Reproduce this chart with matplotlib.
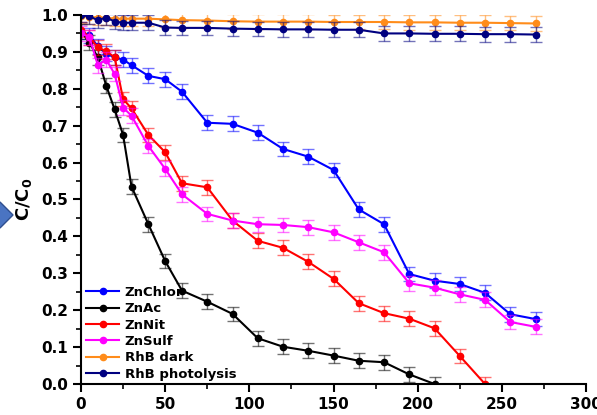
import matplotlib
matplotlib.use("Agg")
import matplotlib.pyplot as plt
from matplotlib.patches import Polygon
import numpy as np

# time (min)
t_all = [0, 5, 10, 15, 20, 25, 30, 40, 50, 60, 75, 90, 105, 120, 135, 150,
         165, 180, 195, 210, 225, 240, 255, 270]

zn_chlor = [0.955, 0.945, 0.915, 0.895, 0.885, 0.879, 0.864, 0.835, 0.826, 0.792,
            0.708, 0.705, 0.681, 0.637, 0.616, 0.580, 0.473, 0.433, 0.298, 0.280,
            0.271, 0.247, 0.189, 0.176]
zn_ac = [0.955, 0.925, 0.885, 0.808, 0.744, 0.675, 0.535, 0.433, 0.333, 0.253,
         0.223, 0.190, 0.124, 0.101, 0.090, 0.077, 0.063, 0.059, 0.026, 0.0]
zn_nit = [0.960, 0.940, 0.912, 0.902, 0.885, 0.772, 0.747, 0.675, 0.628, 0.544,
          0.533, 0.443, 0.388, 0.369, 0.331, 0.285, 0.219, 0.192, 0.177, 0.151,
          0.076, 0.0]
zn_sulf = [0.950, 0.940, 0.864, 0.879, 0.840, 0.749, 0.727, 0.645, 0.583, 0.514,
           0.461, 0.443, 0.433, 0.431, 0.425, 0.411, 0.384, 0.357, 0.273, 0.261,
           0.243, 0.228, 0.168, 0.155]
rhb_dark = [0.998, 0.995, 0.993, 0.993, 0.990, 0.990, 0.990, 0.990, 0.988, 0.986,
            0.985, 0.983, 0.982, 0.982, 0.982, 0.981, 0.981, 0.981, 0.980, 0.980,
            0.979, 0.979, 0.978, 0.977]
rhb_phot = [1.0, 0.996, 0.986, 0.993, 0.982, 0.979, 0.979, 0.979, 0.966, 0.965,
            0.965, 0.963, 0.962, 0.961, 0.961, 0.960, 0.960, 0.950, 0.950, 0.949,
            0.949, 0.948, 0.948, 0.947]

labels = ["ZnChlor", "ZnAc", "ZnNit", "ZnSulf", "RhB dark", "RhB photolysis"]
colors = ["#0000ff", "#000000", "#ff0000", "#ff00ff", "#ff8c1a", "#000080"]
series = [zn_chlor, zn_ac, zn_nit, zn_sulf, rhb_dark, rhb_phot]
err = 0.02

fig = plt.figure(figsize=(5.97, 4.15), dpi=100)
ax = fig.add_axes([0.1357, 0.0747, 0.8459, 0.8892])

for y, c, lab in zip(series, colors, labels):
    x = t_all[:len(y)]
    ax.errorbar(x, y, yerr=err, fmt="none", ecolor=c, alpha=0.55,
                elinewidth=1.0, capsize=4, capthick=1.0)
    ax.plot(x, y, "-o", color=c, lw=1.5, ms=4.5, label=lab)

ax.set_xlim(0, 300)
ax.set_ylim(0, 1.0)
ax.set_xticks(np.arange(0, 301, 50))
ax.set_xticks(np.arange(25, 300, 50), minor=True)
ax.set_yticks(np.arange(0, 1.01, 0.1))
ax.set_yticks(np.arange(0.05, 1.0, 0.1), minor=True)
ax.yaxis.set_major_formatter(matplotlib.ticker.FormatStrFormatter("%.1f"))
for s in ["top", "right"]:
    ax.spines[s].set_visible(False)
for s in ["left", "bottom"]:
    ax.spines[s].set_linewidth(1.5)
ax.tick_params(which="major", direction="out", length=6, width=1.5, labelsize=11)
ax.tick_params(which="minor", direction="out", length=3.5, width=1.2)
for lbl in ax.get_xticklabels() + ax.get_yticklabels():
    lbl.set_fontweight("bold")
ax.set_ylabel("C/C$_\\mathbf{0}$", fontsize=13, fontweight="bold", labelpad=5)

leg = ax.legend(loc="lower left", bbox_to_anchor=(-0.005, -0.012), frameon=False,
                prop={"weight": "bold", "size": 9.5}, handlelength=2.5,
                labelspacing=0.25, handletextpad=0.4, borderaxespad=0.2)

# partially visible diamond on the left edge
diamond = Polygon([[0 / 597, 1 - 202 / 415], [13 / 597, 1 - 215 / 415],
                   [0 / 597, 1 - 228 / 415], [-13 / 597, 1 - 215 / 415]],
                  closed=True, transform=fig.transFigure,
                  facecolor="#4a74c2", edgecolor="#2f4f8f", lw=1)
fig.patches.append(diamond)

fig.savefig("out.png", dpi=100)
